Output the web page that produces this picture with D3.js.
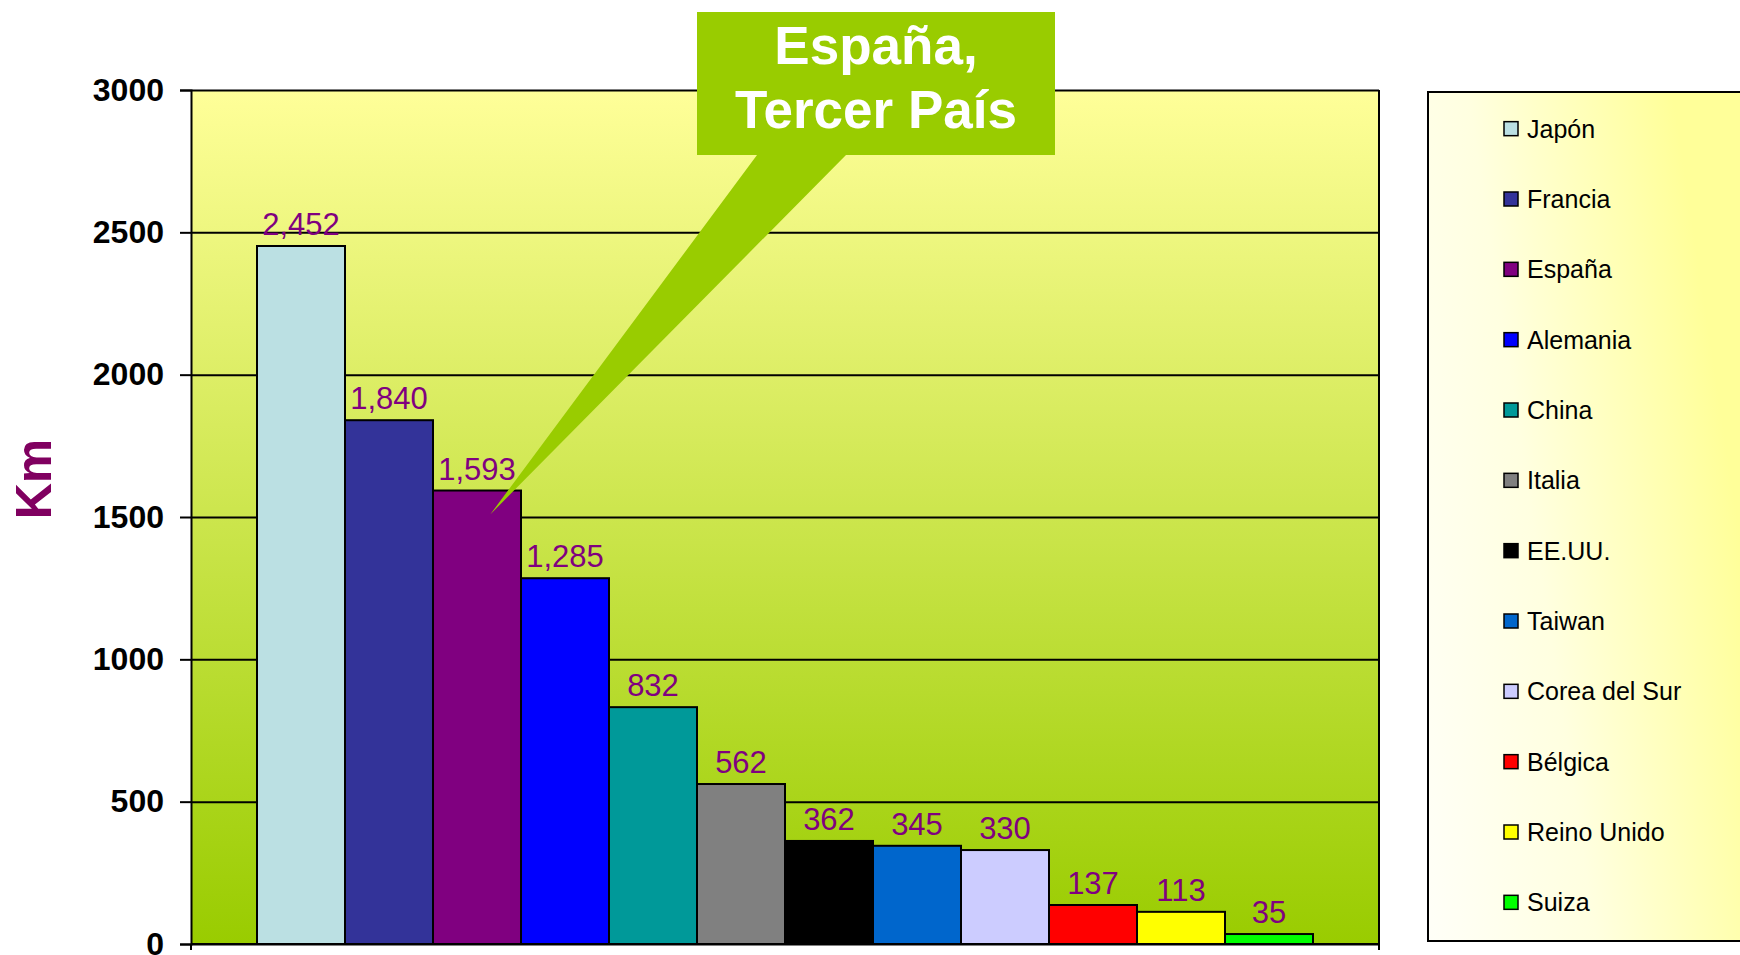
<!DOCTYPE html>
<html>
<head>
<meta charset="utf-8">
<script src="https://cdn.jsdelivr.net/npm/d3@7"></script>
<style>
  body { margin: 0; background: #fff; }
  text { font-family: "Liberation Sans", Arial, sans-serif; }
</style>
</head>
<body>
<script>
// Data
const countries = ["Japón", "Francia", "España", "Alemania", "China", "Italia", "EE.UU.", "Taiwan", "Corea del Sur", "Bélgica", "Reino Unido", "Suiza"];
const km = [2452, 1840, 1593, 1285, 832, 562, 362, 345, 330, 137, 113, 35];
const barColors = ["#BBE0E3", "#333399", "#800080", "#0000FF", "#009999", "#808080", "#000000", "#0066CC", "#CCCCFF", "#FF0000", "#FFFF00", "#00FF00"];
const yTicks = [0, 500, 1000, 1500, 2000, 2500, 3000];
const calloutLines = ["España,", "Tercer País"];
const highlight = "España";

// Layout
const w = 1740;
const h = 955;
const plot = { left: 191, right: 1379, top: 90, bottom: 944 };
const legendBox = { left: 1428, top: 92, bottom: 941 };

const svg = d3.select('body')
  .append('svg')
  .attr('width', w)
  .attr('height', h);

const defs = svg.append('defs');

// plot background: pale yellow to yellow green
const bg = defs.append('linearGradient')
  .attr('id', 'plotBg')
  .attr('x1', 0).attr('y1', 0).attr('x2', 0).attr('y2', 1);
bg.append('stop').attr('offset', '0%').attr('stop-color', '#FFFF99');
bg.append('stop').attr('offset', '100%').attr('stop-color', '#99CC00');

// legend background: white bottom-left to yellow top-right
const lg = defs.append('linearGradient')
  .attr('id', 'legendBg')
  .attr('x1', 0).attr('y1', 1).attr('x2', 1).attr('y2', 0.6);
lg.append('stop').attr('offset', '0%').attr('stop-color', '#FFFFF8');
lg.append('stop').attr('offset', '45%').attr('stop-color', '#FFFFE0');
lg.append('stop').attr('offset', '100%').attr('stop-color', '#FFFF99');

// Scales
const x = d3.scaleBand()
  .domain(countries)
  .range([plot.left, plot.right])
  .paddingInner(0)
  .paddingOuter(0.75);

const y = d3.scaleLinear()
  .domain([0, 3000])
  .range([plot.bottom, plot.top]);

const data = countries.map((c, i) => ({ country: c, value: km[i], color: barColors[i] }));

svg.append('rect')
  .attr('x', plot.left)
  .attr('y', plot.top)
  .attr('width', plot.right - plot.left)
  .attr('height', plot.bottom - plot.top)
  .attr('fill', 'url(#plotBg)');

// gridlines
svg.append('g')
  .attr('transform', 'translate(' + plot.left + ',0)')
  .call(d3.axisLeft(y).tickValues(yTicks).tickSize(-(plot.right - plot.left)).tickFormat(''))
  .call(g => g.select('.domain').remove())
  .call(g => g.selectAll('line').attr('stroke', '#000').attr('stroke-width', 2));

// bars
svg.selectAll('rect.bar')
  .data(data)
  .enter()
  .append('rect')
  .attr('class', 'bar')
  .attr('x', d => x(d.country))
  .attr('y', d => y(d.value))
  .attr('width', x.bandwidth())
  .attr('height', d => y(0) - y(d.value))
  .attr('fill', d => d.color)
  .attr('stroke', '#000')
  .attr('stroke-width', 2);

// value labels
svg.selectAll('text.value')
  .data(data)
  .enter()
  .append('text')
  .attr('class', 'value')
  .attr('x', d => x(d.country) + x.bandwidth() / 2)
  .attr('y', d => y(d.value) - 11)
  .attr('text-anchor', 'middle')
  .attr('font-size', 31)
  .attr('fill', '#800080')
  .text(d => d3.format(',')(d.value));

// y axis
svg.append('g')
  .attr('transform', 'translate(' + plot.left + ',0)')
  .call(d3.axisLeft(y).tickValues(yTicks).tickSize(11).tickPadding(16).tickFormat(d3.format('d')))
  .call(g => g.select('.domain').attr('stroke', '#000').attr('stroke-width', 2))
  .call(g => g.selectAll('line').attr('stroke', '#000').attr('stroke-width', 2))
  .call(g => g.selectAll('text')
    .attr('font-family', '"Liberation Sans", Arial, sans-serif')
    .attr('font-size', 32)
    .attr('font-weight', 'bold')
    .attr('fill', '#000'));

// x axis line with end ticks, and right border
svg.append('line')
  .attr('x1', plot.left).attr('x2', plot.right)
  .attr('y1', plot.bottom).attr('y2', plot.bottom)
  .attr('stroke', '#000').attr('stroke-width', 2);
svg.append('line')
  .attr('x1', plot.right).attr('x2', plot.right)
  .attr('y1', plot.top).attr('y2', plot.bottom + 6)
  .attr('stroke', '#000').attr('stroke-width', 2);
svg.append('line')
  .attr('x1', plot.left).attr('x2', plot.left)
  .attr('y1', plot.bottom).attr('y2', plot.bottom + 6)
  .attr('stroke', '#000').attr('stroke-width', 2);

// y title
svg.append('text')
  .attr('transform', 'translate(51,479) rotate(-90)')
  .attr('text-anchor', 'middle')
  .attr('font-size', 50)
  .attr('font-weight', 'bold')
  .attr('fill', '#800060')
  .text('Km');

// Legend
svg.append('rect')
  .attr('x', legendBox.left)
  .attr('y', legendBox.top)
  .attr('width', w - legendBox.left + 10)
  .attr('height', legendBox.bottom - legendBox.top)
  .attr('fill', 'url(#legendBg)')
  .attr('stroke', '#000')
  .attr('stroke-width', 2);

const ly = d3.scaleBand()
  .domain(countries)
  .range([legendBox.top + 1.5, legendBox.bottom - 3.5]);

const items = svg.selectAll('g.legend')
  .data(data)
  .enter()
  .append('g')
  .attr('class', 'legend')
  .attr('transform', d => 'translate(1504,' + (ly(d.country) + ly.bandwidth() / 2) + ')');

items.append('rect')
  .attr('x', 0)
  .attr('y', -7)
  .attr('width', 14)
  .attr('height', 14)
  .attr('fill', d => d.color)
  .attr('stroke', '#000')
  .attr('stroke-width', 1.5);

items.append('text')
  .attr('x', 23)
  .attr('y', 9)
  .attr('font-size', 25)
  .attr('fill', '#000')
  .text(d => d.country);

// Callout pointing at Spain's bar
const hi = data.find(d => d.country === highlight);
const tipX = x(hi.country) + x.bandwidth() * 0.65;
const tipY = y(hi.value) + 24;
const box = { x0: 697, x1: 1055, y0: 12, y1: 155, b0: 757, b1: 846 };

svg.append('path')
  .attr('d', 'M' + box.x0 + ',' + box.y0 + 'H' + box.x1 + 'V' + box.y1 + 'H' + box.b1 +
    'L' + tipX + ',' + tipY + 'L' + box.b0 + ',' + box.y1 + 'H' + box.x0 + 'Z')
  .attr('fill', '#99CC00');

svg.selectAll('text.callout')
  .data(calloutLines)
  .enter()
  .append('text')
  .attr('class', 'callout')
  .attr('x', (box.x0 + box.x1) / 2 + 0)
  .attr('y', (d, i) => 64 + i * 64)
  .attr('text-anchor', 'middle')
  .attr('font-size', 53)
  .attr('font-weight', 'bold')
  .attr('fill', '#fff')
  .text(d => d);
</script>
</body>
</html>
